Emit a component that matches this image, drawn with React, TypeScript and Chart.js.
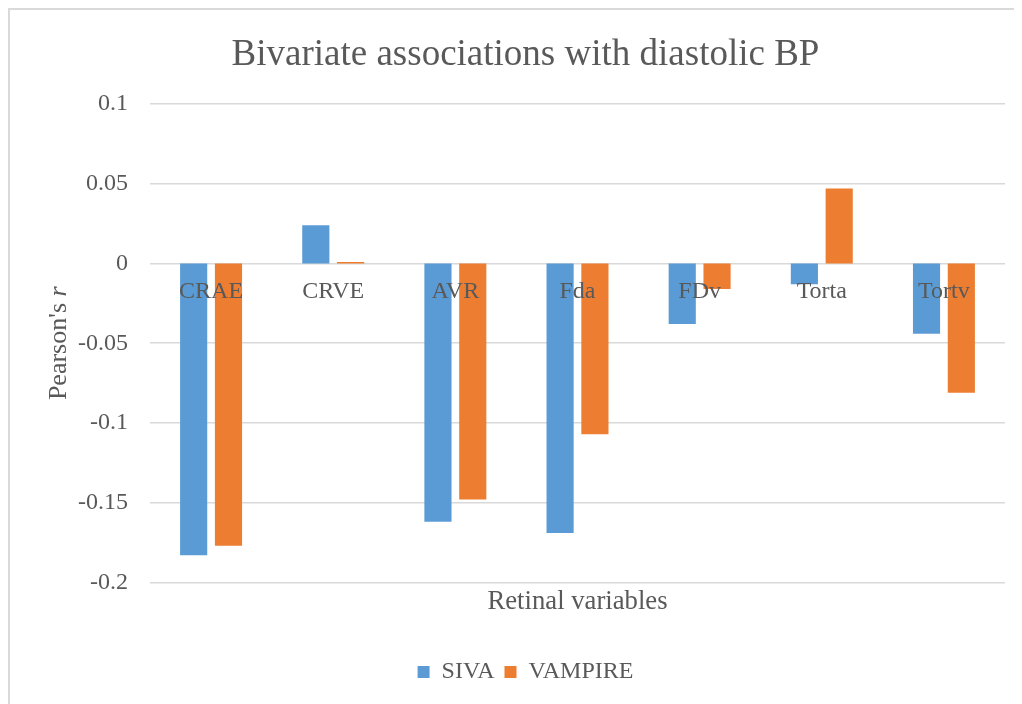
import React, { useEffect, useRef } from "react";
import { Chart, registerables } from "chart.js";

Chart.register(...registerables);

const categories = ["CRAE", "CRVE", "AVR", "Fda", "FDv", "Torta", "Tortv"];
const sivaValues = [-0.183, 0.024, -0.162, -0.169, -0.038, -0.013, -0.044];
const vampireValues = [-0.177, 0.001, -0.148, -0.107, -0.016, 0.047, -0.081];
const seriesNames = ["SIVA", "VAMPIRE"];
const yMin = -0.2;
const yMax = 0.1;
const yStep = 0.05;

const FONT = "'Liberation Serif', 'Times New Roman', serif";
const TEXT = "#595959";
const GRID = "#d9d9d9";

const yTitlePlugin = {
  id: "yTitleMixed",
  afterDraw(chart: any) {
    const { ctx, chartArea } = chart;
    const cy = (chartArea.top + chartArea.bottom) / 2;
    const cx = 49;
    ctx.save();
    ctx.translate(cx, cy);
    ctx.rotate(-Math.PI / 2);
    ctx.fillStyle = TEXT;
    ctx.textBaseline = "middle";
    ctx.textAlign = "left";
    const normalFont = `26px ${FONT}`;
    const italicFont = `italic 26px ${FONT}`;
    const part1 = "Pearson's ";
    const part2 = "r";
    ctx.font = normalFont;
    const w1 = ctx.measureText(part1).width;
    ctx.font = italicFont;
    const w2 = ctx.measureText(part2).width;
    const start = -(w1 + w2) / 2;
    ctx.font = normalFont;
    ctx.fillText(part1, start, 0);
    ctx.font = italicFont;
    ctx.fillText(part2, start + w1, 0);
    ctx.restore();
  },
};

export default function App() {
  const canvasRef = useRef<HTMLCanvasElement | null>(null);

  useEffect(() => {
    if (!canvasRef.current) return;
    const chart = new Chart(canvasRef.current, {
      type: "bar",
      data: {
        labels: categories,
        datasets: [
          {
            label: seriesNames[0],
            data: sivaValues,
            backgroundColor: "#5B9BD5",
            borderWidth: 0,
            categoryPercentage: 0.57,
            barPercentage: 0.78,
          },
          {
            label: seriesNames[1],
            data: vampireValues,
            backgroundColor: "#ED7D31",
            borderWidth: 0,
            categoryPercentage: 0.57,
            barPercentage: 0.78,
          },
        ],
      },
      options: {
        animation: false,
        responsive: true,
        maintainAspectRatio: false,
        layout: { padding: { left: 36, right: 17, top: 0, bottom: 10 } },
        plugins: {
          title: {
            display: true,
            text: "Bivariate associations with diastolic BP",
            color: TEXT,
            font: { family: FONT, size: 37, weight: "normal" },
            padding: { top: 23, bottom: 26.6 },
          },
          legend: {
            position: "bottom",
            labels: {
              color: TEXT,
              font: { family: FONT, size: 24 },
              boxWidth: 12,
              boxHeight: 12,
              padding: 10,
            },
          },
          tooltip: { enabled: false },
        },
        scales: {
          x: {
            type: "category",
            position: { y: 0 } as any,
            grid: { display: false, drawTicks: false },
            border: { display: false },
            ticks: {
              z: 1,
              color: TEXT,
              font: { family: FONT, size: 24 },
              padding: 13.6,
              maxRotation: 0,
              autoSkip: false,
            },
          },
          xTitle: {
            type: "category",
            position: "bottom",
            labels: categories,
            grid: { display: false, drawTicks: false },
            border: { display: false },
            ticks: { display: false },
            title: {
              display: true,
              text: "Retinal variables",
              color: TEXT,
              font: { family: FONT, size: 26.7 },
              padding: { top: 4, bottom: 31.5 },
            },
          },
          y: {
            min: yMin,
            max: yMax,
            afterFit(scale: any) {
              scale.width = 104;
            },
            grid: { color: GRID, lineWidth: 1.5, drawTicks: false },
            border: { display: false },
            ticks: {
              stepSize: yStep,
              color: TEXT,
              font: { family: FONT, size: 24 },
              padding: 22,
              callback: (v: any) => String(Math.round(Number(v) * 100) / 100),
            },
          },
        },
      },
      plugins: [yTitlePlugin],
    } as any);
    return () => chart.destroy();
  }, []);

  return (
    <div
      style={{
        width: 1014,
        height: 696,
        boxSizing: "border-box",
        borderTop: "2px solid #d9d9d9",
        borderLeft: "2px solid #d9d9d9",
        background: "#fff",
      }}
    >
      <div style={{ position: "relative", width: 1012, height: 694 }}>
        <canvas ref={canvasRef} />
      </div>
    </div>
  );
}
